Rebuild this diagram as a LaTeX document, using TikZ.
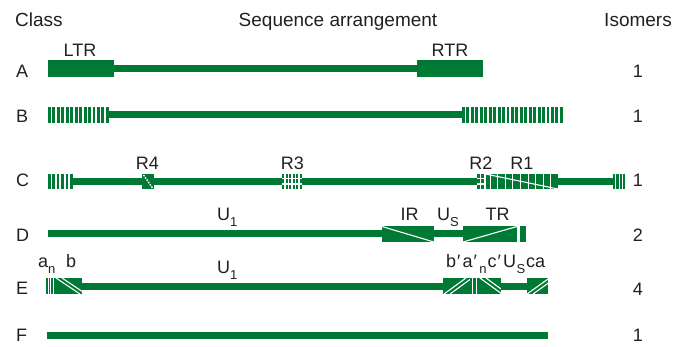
\documentclass[tikz,border=0pt]{standalone}
\usepackage{fontspec}
\setmainfont{Liberation Sans}
\definecolor{dg}{RGB}{0,121,52}
\definecolor{tx}{RGB}{35,31,32}
\newcommand{\lsub}[1]{\raisebox{-6.5pt}{\fontsize{13}{13}\selectfont #1}}
\newcommand{\pr}{\kern1pt′\kern2pt}
\begin{document}
\begin{tikzpicture}[x=1pt,y=-1pt,
  g/.style={fill=dg},
  wl/.style={draw=white,line width=1.1pt},
  wv/.style={draw=white,line width=0.8pt},
  hd/.style={text=tx,inner sep=0,font=\fontsize{19}{22}\selectfont},
  lb/.style={text=tx,inner sep=0,font=\fontsize{18}{21}\selectfont}]
\useasboundingbox (0,0) rectangle (681,346);
% headers
\node[hd,anchor=base west] (hclass) at (15,26) {Class};
\node[hd,anchor=base] (hseq) at (338,26) {Sequence arrangement};
\node[hd,anchor=base east] (hiso) at (672,26) {Isomers};
% row letters
\node[lb,anchor=base west] (rA) at (16,77) {A};
\node[lb,anchor=base west] (rB) at (16,122) {B};
\node[lb,anchor=base west] (rC) at (16,186) {C};
\node[lb,anchor=base west] (rD) at (16,241) {D};
\node[lb,anchor=base west] (rE) at (16,294) {E};
\node[lb,anchor=base west] (rF) at (16,341) {F};
% isomer numbers
\node[lb,anchor=base] (nA) at (638,77) {1};
\node[lb,anchor=base] (nB) at (638,122) {1};
\node[lb,anchor=base] (nC) at (638,186) {1};
\node[lb,anchor=base] (nD) at (638,241) {2};
\node[lb,anchor=base] (nE) at (638,295) {4};
\node[lb,anchor=base] (nF) at (638,341) {1};
% ---- row A
\fill[g] (48,60) rectangle (114,77);
\fill[g] (114,64.5) rectangle (417,71.5);
\fill[g] (417,60) rectangle (483,77);
\node[lb,anchor=base] (lLTR) at (80,56) {LTR};
\node[lb,anchor=base] (lRTR) at (450,56) {RTR};
% ---- row B
\foreach \i in {0,...,13} \fill[g] ({48+\i*4.45},107) rectangle +(2.9,16);
\fill[g] (108,111) rectangle (463,118);
\foreach \i in {0,...,22} \fill[g] ({462+\i*4.45},107) rectangle +(2.9,16);
% ---- row C
\foreach \i in {0,...,5} \fill[g] ({48+\i*4.4},174) rectangle +(2.6,15);
\fill[g] (71,178) rectangle (282,185);
\fill[g] (142,174) rectangle (154,189);
\draw[white,line width=1.4pt,dash pattern=on 1.6pt off 1.2pt] (143.5,175) -- (152.5,188);
\foreach \i in {0,...,5} \foreach \j in {0,1,2} \fill[g] ({282+\i*3.5},{174+\j*5.4}) rectangle +(2.4,4.0);
\fill[g] (302,178) rectangle (477,185);
\foreach \i in {0,1} \foreach \j in {0,1,2} \fill[g] ({477+\i*4.2},{174+\j*5.4}) rectangle +(2.9,4.0);
\fill[g] (485.5,174) rectangle (558,189);
\foreach \i in {0,...,8} \draw[wv] ({490+\i*7.6},174) -- +(0,15);
\draw[wl] (485.5,174) -- (558,189);
\fill[g] (558,178) rectangle (613,185);
\foreach \i in {0,...,3} \fill[g] ({613+\i*3.3},174) rectangle +(2.2,15);
\node[lb,anchor=base] (lR4) at (147.5,169) {R4};
\node[lb,anchor=base] (lR3) at (292.5,169) {R3};
\node[lb,anchor=base] (lR2) at (481,169) {R2};
\node[lb,anchor=base] (lR1) at (522,169) {R1};
% ---- row D
\fill[g] (48,230) rectangle (382,237);
\fill[g] (382,226) rectangle (434,242);
\draw[wl] (382,226.5) -- (434,242);
\fill[g] (434,230) rectangle (463,237);
\fill[g] (463,226) rectangle (517,242);
\draw[wl] (463,242) -- (517,226.5);
\fill[g] (520,226) rectangle (526,242);
\node[lb,anchor=base west] (lU1d) at (217,220) {U\lsub{1}};
\node[lb,anchor=base] (lIR) at (409.5,220) {IR};
\node[lb,anchor=base west] (lUS) at (437,220) {U\lsub{S}};
\node[lb,anchor=base] (lTR) at (497.5,220) {TR};
% ---- row E
\fill[g] (46,278) rectangle (53,294);
\draw[wv] (48.4,278) -- (48.4,294);
\draw[wv] (50.8,278) -- (50.8,294);
\fill[g] (53.8,278) rectangle (82,294);
\begin{scope}
\clip (53.8,278) rectangle (82,294);
\draw[wl] (56,278) -- (80,294);
\draw[wl] (62,278) -- (86,294);
\end{scope}
\fill[g] (82,283) rectangle (443,290);
\fill[g] (443,278) rectangle (470,294);
\begin{scope}
\clip (443,278) rectangle (470,294);
\draw[wl] (444,294) -- (466,278);
\draw[wl] (450,294) -- (472,278);
\end{scope}
\fill[g] (470,278) rectangle (480,294);
\draw[wv] (472.8,278) -- (472.8,294);
\draw[wv] (476.2,278) -- (476.2,294);
\fill[g] (479.5,278) rectangle (501,294);
\begin{scope}
\clip (479.5,278) rectangle (501,294);
\draw[wl] (480,278) -- (502,294);
\draw[wl] (486,278) -- (508,294);
\end{scope}
\fill[g] (501,283) rectangle (527,290);
\fill[g] (527,278) rectangle (548,294);
\begin{scope}
\clip (527,278) rectangle (548,294);
\draw[wl] (527,294) -- (548,279);
\draw[wl] (533,294) -- (554,279);
\end{scope}
\node[lb,anchor=base west] (lan) at (38,267) {a\lsub{n}};
\node[lb,anchor=base west] (lbb) at (66,267) {b};
\node[lb,anchor=base west] (lU1e) at (217,273) {U\lsub{1}};
\node[lb,anchor=base west] (lbr) at (446,267) {b\pr a\pr\kern0.5pt\lsub{n}\kern1pt c\pr U\kern0.5pt\lsub{S}\kern1pt ca};
% ---- row F
\fill[g] (47,332) rectangle (548,338.5);
\end{tikzpicture}
\end{document}
